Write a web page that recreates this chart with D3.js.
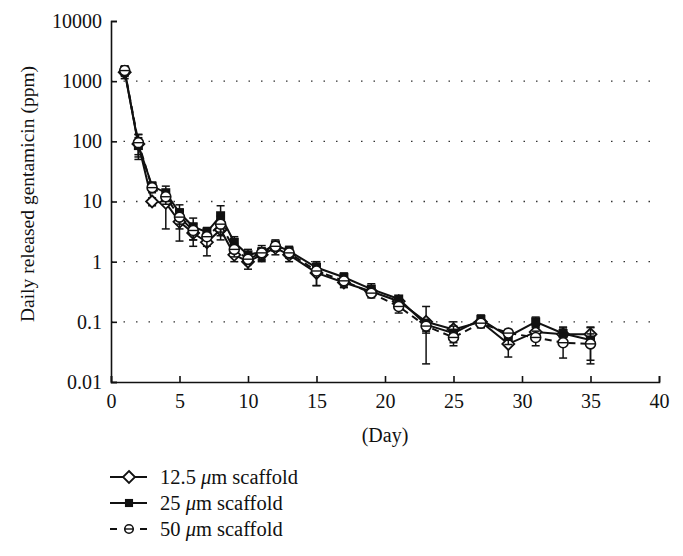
<!DOCTYPE html>
<html><head><meta charset="utf-8">
<script src="https://cdn.jsdelivr.net/npm/d3@7"></script>
<style>body{margin:0;background:#fff}svg text{font-family:"Liberation Serif","DejaVu Serif",serif;fill:#111}</style>
</head><body><svg id="c" width="683" height="556"></svg>
<script>
const days = [1,2,3,4,5,6,7,8,9,10,11,12,13,15,17,19,21,23,25,27,29,31,33,35];
const s125 = [1400,90,10,9.5,4.6,3.0,2.1,3.4,1.3,1.0,1.3,1.7,1.3,0.65,0.45,0.32,0.22,0.1,0.075,0.1,0.043,0.068,0.062,0.062];
const s125sd = [300,40,1.5,6,2.4,1.2,0.85,1.1,0.3,0.25,0.3,0.4,0.3,0.25,0.08,0.05,0.04,0.08,0.025,0.02,0.017,0.015,0.02,0.02];
const s25 = [1500,85,18,14,6.5,3.8,3.1,5.8,2.1,1.3,1.45,1.9,1.5,0.8,0.55,0.35,0.24,0.09,0.065,0.11,0.057,0.1,0.064,0.05];
const s25sd = [300,30,3,4,2.3,1.5,0.6,2.7,0.5,0.3,0.4,0.4,0.3,0.15,0.1,0.08,0.03,0.02,0.02,0.02,0.015,0.02,0.015,0.03];
const s50 = [1500,95,17,12,5.5,3.3,2.6,4.2,1.6,1.1,1.4,1.8,1.4,0.7,0.48,0.3,0.18,0.085,0.055,0.095,0.065,0.055,0.045,0.043];
const s50sd = [250,35,3,3,2,1,0.8,1.5,0.4,0.2,0.3,0.3,0.25,0.3,0.1,0.05,0.04,0.02,0.015,0.015,0.01,0.015,0.02,0.02];
const yTicks = [0.01,0.1,1,10,100,1000,10000];
const xTicks = [0,5,10,15,20,25,30,35,40];
const seriesNames = ["12.5 ", "25 ", "50 "];

const svg = d3.select("#c");
const x = d3.scaleLinear().domain([0,40]).range([111,659]);
const y = d3.scaleLog().domain([0.01,10000]).range([382,21]);

// gridlines
svg.append("g").selectAll("line").data(yTicks.filter(v=>v>0.01 && v<10000)).join("line")
  .attr("x1",x(0)).attr("x2",x(40)).attr("y1",d=>y(d)).attr("y2",d=>y(d))
  .attr("stroke","#333").attr("stroke-width",1.3).attr("stroke-dasharray","1.5,11");

// axes
const xa = svg.append("g").attr("transform",`translate(0,${y(0.01)})`)
  .call(d3.axisBottom(x).tickValues(xTicks).tickSize(-6).tickPadding(12).tickFormat(d3.format("d")));
const ya = svg.append("g").attr("transform",`translate(${x(0)},0)`)
  .call(d3.axisLeft(y).tickValues(yTicks).tickSize(-6).tickPadding(9).tickFormat(d=>String(d)));
[xa,ya].forEach(a=>{a.select(".domain").attr("stroke","#111").attr("stroke-width",1.6);
  a.selectAll(".tick line").attr("stroke","#111").attr("stroke-width",1.6);
  a.selectAll("text").attr("font-size",20).attr("fill","#111").style("font-family",'"Liberation Serif",serif');});

svg.append("text").attr("x",385).attr("y",442).attr("text-anchor","middle").attr("font-size",20).text("(Day)");
svg.append("text").attr("transform","translate(34,194) rotate(-90)").attr("text-anchor","middle").attr("font-size",19.5).text("Daily released gentamicin (ppm)");

const series = [
  {vals:s125, sd:s125sd, dash:null, marker:"diamond"},
  {vals:s25, sd:s25sd, dash:null, marker:"square"},
  {vals:s50, sd:s50sd, dash:"7,5", marker:"circle"}
];
const line = d3.line().x(d=>x(d[0])).y(d=>y(d[1]));

function marker(g, type, cx, cy, r){
  r = r || 1;
  if(type==="diamond"){
    g.append("path").attr("d",`M${cx},${cy-6*r}L${cx+6*r},${cy}L${cx},${cy+6*r}L${cx-6*r},${cy}Z`)
      .attr("fill","#fff").attr("stroke","#111").attr("stroke-width",1.8);
  } else if(type==="square"){
    g.append("rect").attr("x",cx-4.5*r).attr("y",cy-4.5*r).attr("width",9*r).attr("height",9*r).attr("fill","#111");
  } else {
    g.append("circle").attr("cx",cx).attr("cy",cy).attr("r",5*r).attr("fill","#fff").attr("stroke","#111").attr("stroke-width",1.6);
    g.append("line").attr("x1",cx-5*r).attr("x2",cx+5*r).attr("y1",cy).attr("y2",cy).attr("stroke","#111").attr("stroke-width",1.4);
  }
}

series.forEach(s=>{
  const g = svg.append("g");
  const pts = days.map((d,i)=>[d,s.vals[i],s.sd[i]]);
  pts.forEach(p=>{
    const lo = Math.max(p[1]-p[2], 0.011), hi = p[1]+p[2];
    const cx = x(p[0]);
    g.append("line").attr("x1",cx).attr("x2",cx).attr("y1",y(lo)).attr("y2",y(hi)).attr("stroke","#111").attr("stroke-width",1.5);
    [lo,hi].forEach(v=>g.append("line").attr("x1",cx-4).attr("x2",cx+4).attr("y1",y(v)).attr("y2",y(v)).attr("stroke","#111").attr("stroke-width",1.5));
  });
  g.append("path").datum(pts).attr("d",line).attr("fill","none").attr("stroke","#111").attr("stroke-width",2)
    .attr("stroke-dasharray",s.dash);
  pts.forEach(p=>marker(g,s.marker,x(p[0]),y(p[1])));
});

// legend
const leg = svg.append("g");
series.forEach((s,i)=>{
  const ly = 477 + i*26;
  leg.append("line").attr("x1",110).attr("x2",147).attr("y1",ly).attr("y2",ly).attr("stroke","#111").attr("stroke-width",1.8)
    .attr("stroke-dasharray", s.dash ? "7,23,7" : null);
  marker(leg, s.marker, 129, ly, s.marker==="circle" ? 0.85 : (s.marker==="square" ? 0.9 : 1));
  const t = leg.append("text").attr("x",160).attr("y",ly+7).attr("font-size",20.5);
  t.append("tspan").text(seriesNames[i]);
  t.append("tspan").attr("font-style","italic").text("μ");
  t.append("tspan").text("m scaffold");
});
</script></body></html>
